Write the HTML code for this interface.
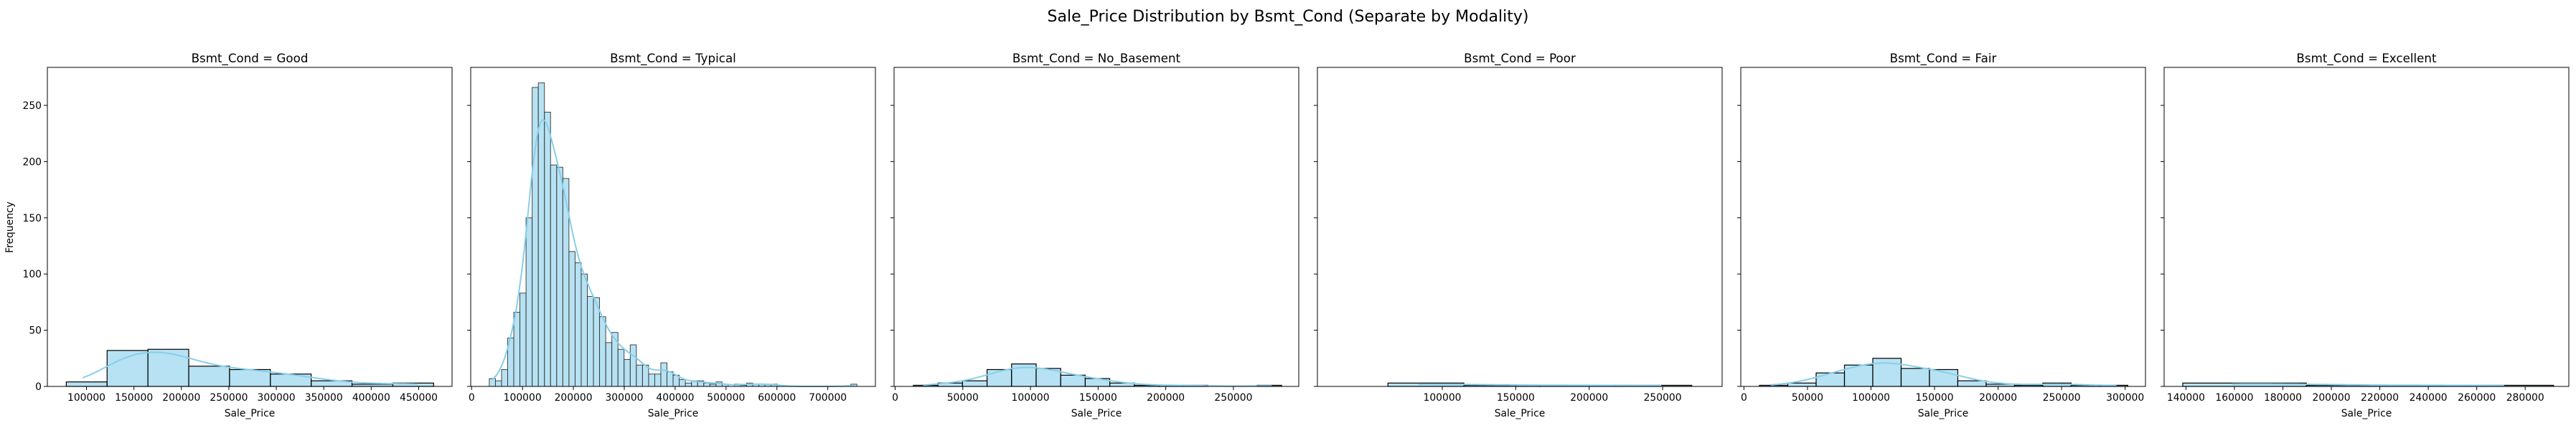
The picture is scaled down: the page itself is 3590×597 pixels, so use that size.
<!DOCTYPE html>
<html><head><meta charset="utf-8"><style>
html,body{margin:0;padding:0;background:#fff;}
svg text{font-family:"DejaVu Sans","Liberation Sans",sans-serif;fill:#000;}
</style></head><body>
<svg id="fig" width="3590" height="592" xmlns="http://www.w3.org/2000/svg">
<text x="1795" y="30" font-size="22" text-anchor="middle">Sale_Price Distribution by Bsmt_Cond (Separate by Modality)</text>
<text transform="translate(18,317) rotate(-90)" font-size="13.9" text-anchor="middle">Frequency</text>
</svg>
<script>
const panelNames = ["Good","Typical","No_Basement","Poor","Fair","Excellent"];
const binStarts = [78750, 34700, 13500, 63000, 12200, 138700];
const binWidths = [43000, 12043, 18140, 51700, 22300, 51000];
const countsGood = [4,32,33,18,15,11,5,2,3];
const countsTypical = [7,5,15,43,66,83,150,266,270,244,197,195,185,120,110,100,80,79,62,39,48,33,24,37,19,19,11,11,21,13,10,6,3,5,5,3,2,4,2,0,2,1,3,2,2,2,2,1,0,0,0,0,0,0,0,0,0,0,0,2];
const countsNoBasement = [1,3,5,15,20,16,10,7,3,1,1,1,0,0,1];
const countsPoor = [3,1,1,1];
const countsFair = [1,3,12,19,25,16,15,5,2,1,3,1,1];
const countsExcellent = [3,1,1];
const xMins = [58800, -1800, -800, 15000, -2500, 131000];
const xMaxs = [485150, 793600, 298300, 290500, 316000, 298000];
const xTicks0 = [100000,150000,200000,250000,300000,350000,400000,450000];
const xTicks1 = [0,100000,200000,300000,400000,500000,600000,700000];
const xTicks2 = [0,50000,100000,150000,200000,250000];
const xTicks3 = [100000,150000,200000,250000];
const xTicks4 = [0,50000,100000,150000,200000,250000,300000];
const xTicks5 = [140000,160000,180000,200000,220000,240000,260000,280000];
const yTicks = [0,50,100,150,200,250];
const yMax = 283.8;

const allCounts=[countsGood,countsTypical,countsNoBasement,countsPoor,countsFair,countsExcellent];
const allTicks=[xTicks0,xTicks1,xTicks2,xTicks3,xTicks4,xTicks5];
const svg=document.getElementById('fig');
const NS='http://www.w3.org/2000/svg';
const TOP=94,BOT=539,W=564,PITCH=590,L0=66;
function mk(t,a){const e=document.createElementNS(NS,t);for(const k in a)e.setAttribute(k,a[k]);return e;}
for(let p=0;p<6;p++){
  const left=L0+p*PITCH,right=left+W;
  const xs=v=>left+(v-xMins[p])/(xMaxs[p]-xMins[p])*W;
  const ys=v=>BOT-v/yMax*(BOT-TOP);
  const g=mk('g',{});
  
  
  svg.appendChild(g);
  const counts=allCounts[p],bw=binWidths[p],b0=binStarts[p];
  counts.forEach((c,i)=>{
    const x0=xs(b0+i*bw),x1=xs(b0+(i+1)*bw);
    const r=mk('rect',{x:x0,y:ys(c),width:x1-x0,height:BOT-ys(c),fill:'rgba(135,206,235,0.6)',stroke:p==1?'#333':'#000','stroke-width':p==1?0.9:1.2});
    
    
    g.appendChild(r);
  });
  // KDE from histogram
  let n=0,mean=0;counts.forEach((c,i)=>{n+=c;mean+=c*(b0+(i+0.5)*bw);});mean/=n;
  let vr=0;counts.forEach((c,i)=>{const m=b0+(i+0.5)*bw;vr+=c*(m-mean)*(m-mean);});vr/=n;
  const h=Math.sqrt(vr)*Math.pow(n,-0.2);
  const lo=b0+bw*0.4,hi=b0+counts.length*bw-bw*0.4;
  let d='';
  for(let k=0;k<=200;k++){
    const x=lo+(hi-lo)*k/200;let s=0;
    counts.forEach((c,i)=>{const m=b0+(i+0.5)*bw;const z=(x-m)/h;s+=c*Math.exp(-0.5*z*z);});
    const dens=s/(n*h*Math.sqrt(2*Math.PI));
    d+=(k?'L':'M')+xs(x).toFixed(1)+','+ys(dens*n*bw).toFixed(1);
  }
  const kde=mk('path',{d:d,fill:'none',stroke:'#87CEEB','stroke-width':2});
  
  
  g.appendChild(kde);
  const fr=mk('rect',{x:left,y:TOP,width:W,height:BOT-TOP,fill:'none',stroke:'#000','stroke-width':1});
  
  
  g.appendChild(fr);
  const tt=mk('text',{x:left+W/2,y:TOP-7,'font-size':16.7,'text-anchor':'middle'});
  tt.textContent='Bsmt_Cond = '+panelNames[p];
  
  
  g.appendChild(tt);
  allTicks[p].forEach(v=>{
    const x=xs(v);
    g.appendChild(mk('line',{x1:x,x2:x,y1:BOT,y2:BOT+5,stroke:'#000'}));
    const t=mk('text',{x:x,y:BOT+20,'font-size':13.9,'text-anchor':'middle'});
    t.textContent=v;
    
    
    g.appendChild(t);
  });
  yTicks.forEach(v=>{
    const y=ys(v);
    g.appendChild(mk('line',{x1:left-5,x2:left,y1:y,y2:y,stroke:'#000'}));
    if(p==0){const t=mk('text',{x:left-8,y:y+5,'font-size':13.9,'text-anchor':'end'});
      t.textContent=v;
      
      
      g.appendChild(t);}
  });
  const xl=mk('text',{x:left+W/2,y:BOT+42,'font-size':13.9,'text-anchor':'middle'});
  xl.textContent='Sale_Price';
  
  
  g.appendChild(xl);
}
</script>
</body></html>
